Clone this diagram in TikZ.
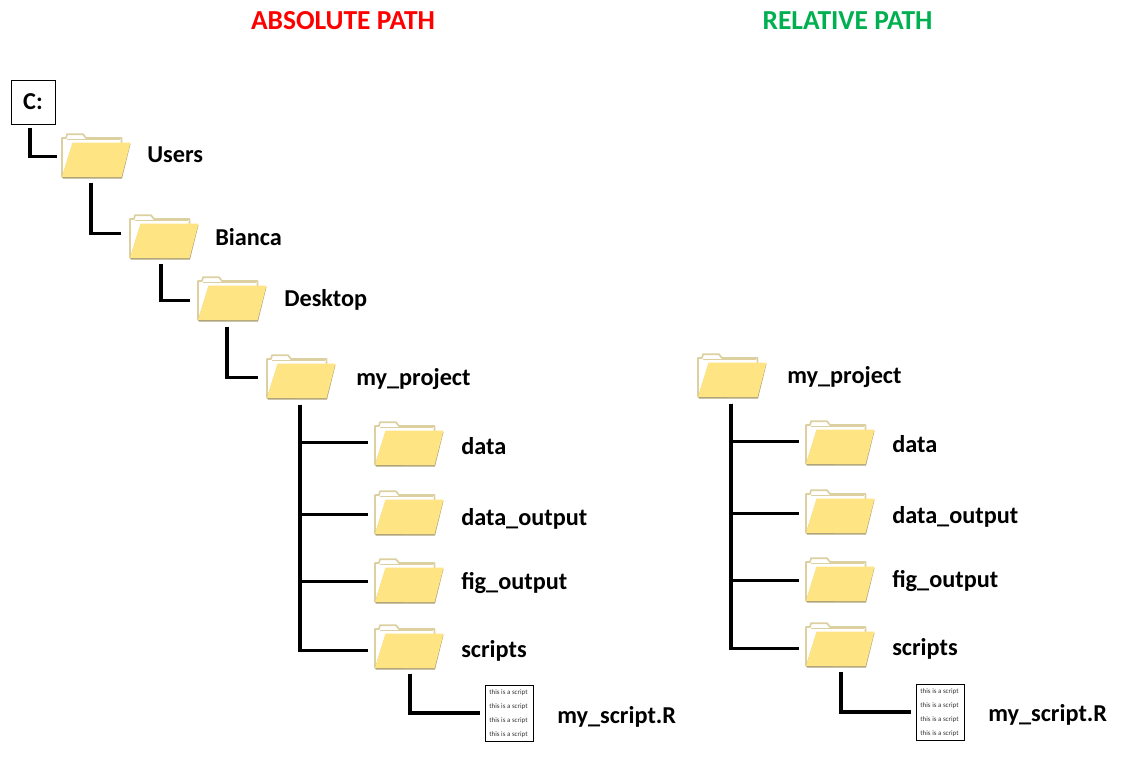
\documentclass[tikz,border=0pt]{standalone}
\usepackage{fontspec}
\setmainfont{Carlito}
\usetikzlibrary{calc}
\definecolor{foldfill}{HTML}{FFE484}
\definecolor{foldedge}{HTML}{DDD0A0}
\definecolor{foldshadow}{HTML}{B0A47A}
\definecolor{titlegreen}{HTML}{00B050}
\tikzset{
  x=0.75pt, y=-0.75pt,
  wire/.style={draw=black, line width=2.5pt, line cap=butt, line join=miter},
  lbl/.style={anchor=base west, inner sep=0pt, font=\bfseries\fontsize{18.2pt}{20pt}\selectfont},
  ttl/.style={anchor=base, inner sep=0pt, font=\bfseries\fontsize{20.6pt}{22pt}\selectfont},
  foldbox/.style={inner sep=0pt, minimum width=52.5pt, minimum height=34.5pt},
  docline/.style={inner sep=0pt, text=black!80, font=\fontsize{5.2pt}{6pt}\selectfont},
}
\newcommand{\foldershape}[3]{% name, left, top
  \node[foldbox, anchor=north west] (#1) at (#2,#3) {};
  \begin{scope}[shift={(#2,#3)}]
    \draw[foldedge, line width=1.3pt, fill=white, line join=round] (1,44) -- (1,5) -- (5,5) -- (6,1.2) -- (22,1.2) -- (25,5) -- (60.5,5) -- (60.5,14) -- (60,44);
    \draw[foldedge, line width=0.8pt] (6,6.5) -- (59,6.5);
    \fill[foldshadow] (1,44) -- (11.5,11) -- (69.5,11) -- (61,45.5) -- (2,45.5) -- cycle;
    \fill[foldfill] (1,43.8) -- (11.5,9.5) -- (69.5,9.5) -- (60.5,44.2) -- cycle;
  \end{scope}
}
\newcommand{\docshape}[3]{% name, left, top
  \node[draw=black, line width=0.8pt, inner sep=0pt, anchor=north west, minimum width=36pt, minimum height=42pt] (#1) at (#2,#3) {};
  \foreach \yy in {8,22.5,36.5,50.5} {
    \node[docline] at ($(#2,#3)+(23.5,\yy)$) {this is a script};
  }
}
\begin{document}
\begin{tikzpicture}
\useasboundingbox (0,0) rectangle (1126,757);
% titles
\node[ttl, text=red] (t1) at (343,29) {ABSOLUTE PATH};
\node[ttl, text=titlegreen] (t2) at (847.5,29) {RELATIVE PATH};
% root
\node[draw=black, line width=0.75pt, anchor=north west, inner sep=0pt, minimum width=33pt, minimum height=33pt, font=\bfseries\fontsize{18.2pt}{20pt}\selectfont] (c) at (10.5,79.5) {\raisebox{1.2pt}{C:}\hspace{1pt}};
% left tree
\foldershape{users}{61}{133}
\foldershape{bianca}{129}{214}
\foldershape{desktop}{197}{276}
\foldershape{proj}{266}{354}
\foldershape{data}{374}{421}
\foldershape{dout}{374}{490}
\foldershape{fig}{374}{558}
\foldershape{scr}{374}{624}
\docshape{doc}{485}{684.5}
\node[lbl] at (147,162) {Users};
\node[lbl] at (215,245) {Bianca};
\node[lbl] at (284,306) {Desktop};
\node[lbl] at (356,385) {my\_project};
\node[lbl] at (461,454) {data};
\node[lbl] at (461,525) {data\_output};
\node[lbl] at (461,589) {fig\_output};
\node[lbl] at (461,657) {scripts};
\node[lbl] at (557,723) {my\_script.R};
% right tree
\foldershape{rproj}{697}{353}
\foldershape{rdata}{805}{420}
\foldershape{rdout}{805}{489}
\foldershape{rfig}{805}{557}
\foldershape{rscr}{805}{622}
\docshape{rdoc}{916}{683.5}
\node[lbl] at (787,383) {my\_project};
\node[lbl] at (892,452) {data};
\node[lbl] at (892,523) {data\_output};
\node[lbl] at (892,587) {fig\_output};
\node[lbl] at (892,655) {scripts};
\node[lbl] at (988,721) {my\_script.R};
% connectors, left
\draw[wire] ([xshift=14.5pt,yshift=-2.25pt]c.south west) |- ([xshift=-3pt]users.west);
\draw[wire] ([xshift=22.5pt,yshift=-2.25pt]users.south west) |- ([xshift=-6pt,yshift=3pt]bianca.west);
\draw[wire] ([xshift=24pt,yshift=-2.25pt]bianca.south west) |- ([xshift=-5.25pt,yshift=-0.75pt]desktop.west);
\draw[wire] ([xshift=22.5pt,yshift=-3pt]desktop.south west) |- ([xshift=-6pt]proj.west);
\draw[wire] ([xshift=25.5pt,yshift=-3pt]proj.south west) |- ([xshift=-4.5pt,yshift=-2.25pt]scr.west);
\draw[wire] ([xshift=25.5pt,yshift=-3pt]proj.south west) |- ([xshift=-4.5pt,yshift=1.5pt]data.west);
\draw[wire] ([xshift=25.5pt,yshift=-3pt]proj.south west) |- ([xshift=-4.5pt,yshift=-0.75pt]dout.west);
\draw[wire] ([xshift=25.5pt,yshift=-3pt]proj.south west) |- ([xshift=-4.5pt]fig.west);
\draw[wire] ([xshift=27pt,yshift=-2.25pt]scr.south west) |- ([xshift=-3.75pt]doc.west);
% connectors, right
\draw[wire] ([xshift=25.5pt,yshift=-3pt]rproj.south west) |- ([xshift=-4.5pt,yshift=-2.25pt]rscr.west);
\draw[wire] ([xshift=25.5pt,yshift=-3pt]rproj.south west) |- ([xshift=-4.5pt,yshift=1.5pt]rdata.west);
\draw[wire] ([xshift=25.5pt,yshift=-3pt]rproj.south west) |- ([xshift=-4.5pt,yshift=-0.75pt]rdout.west);
\draw[wire] ([xshift=25.5pt,yshift=-3pt]rproj.south west) |- ([xshift=-4.5pt]rfig.west);
\draw[wire] ([xshift=27pt,yshift=-2.25pt]rscr.south west) |- ([xshift=-3.75pt]rdoc.west);
\end{tikzpicture}
\end{document}
